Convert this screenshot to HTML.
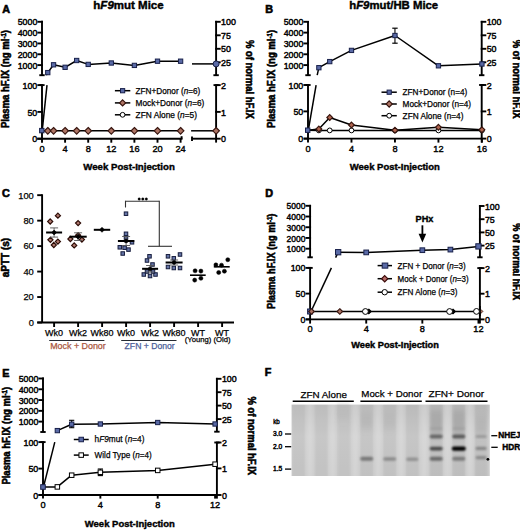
<!DOCTYPE html>
<html><head><meta charset="utf-8"><style>
html,body{margin:0;padding:0;background:#fff;overflow:hidden;}
svg{display:block;font-family:"Liberation Sans",sans-serif;}
text{stroke:#000;stroke-width:0.25px;}
text[font-weight="bold"]{stroke-width:0.4px;}
text[transform]{stroke-width:0.55px;}
text.tk{stroke-width:0.42px;}
text.xt{stroke-width:0.4px;}
text.pl{stroke-width:0.6px;}
</style></head><body>
<svg width="520" height="530" viewBox="0 0 520 530">
<defs>
<filter id="blur1" x="-20%" y="-50%" width="140%" height="200%"><feGaussianBlur stdDeviation="0.9 0.8"/></filter>
<filter id="blur2" x="-10%" y="-10%" width="120%" height="120%"><feGaussianBlur stdDeviation="1.2 0"/></filter>
<linearGradient id="gelg" x1="0" y1="0" x2="0" y2="1"><stop offset="0" stop-color="#c6c6c6"/><stop offset="0.45" stop-color="#d2d2d2"/><stop offset="1" stop-color="#cdcdcd"/></linearGradient>
<filter id="blur3" x="-50%" y="-50%" width="200%" height="200%"><feGaussianBlur stdDeviation="1.6 3"/></filter>
</defs>
<rect width="520" height="530" fill="#fff"/>
<rect x="291.6" y="404.6" width="198.2" height="71.39999999999998" fill="url(#gelg)"/>
<g filter="url(#blur2)"><rect x="292.0" y="404.6" width="13" height="71.39999999999998" fill="#000" opacity="0.05"/><rect x="314.7" y="404.6" width="13" height="71.39999999999998" fill="#000" opacity="0.05"/><rect x="337.4" y="404.6" width="13" height="71.39999999999998" fill="#000" opacity="0.05"/><rect x="360.2" y="404.6" width="13" height="71.39999999999998" fill="#000" opacity="0.06"/><rect x="383.2" y="404.6" width="13" height="71.39999999999998" fill="#000" opacity="0.06"/><rect x="405.8" y="404.6" width="13" height="71.39999999999998" fill="#000" opacity="0.06"/><rect x="429.7" y="404.6" width="13" height="71.39999999999998" fill="#000" opacity="0.08"/><rect x="452.3" y="404.6" width="13" height="71.39999999999998" fill="#000" opacity="0.08"/><rect x="474.6" y="404.6" width="13" height="71.39999999999998" fill="#000" opacity="0.08"/><rect x="307.5" y="404.6" width="5" height="71.39999999999998" fill="#fff" opacity="0.12"/><rect x="330.0" y="404.6" width="5" height="71.39999999999998" fill="#fff" opacity="0.12"/><rect x="352.8" y="404.6" width="5" height="71.39999999999998" fill="#fff" opacity="0.12"/><rect x="375.7" y="404.6" width="5" height="71.39999999999998" fill="#fff" opacity="0.12"/><rect x="398.5" y="404.6" width="5" height="71.39999999999998" fill="#fff" opacity="0.12"/><rect x="421.7" y="404.6" width="5" height="71.39999999999998" fill="#fff" opacity="0.12"/><rect x="445.0" y="404.6" width="5" height="71.39999999999998" fill="#fff" opacity="0.12"/><rect x="467.5" y="404.6" width="5" height="71.39999999999998" fill="#fff" opacity="0.12"/></g>
<g filter="url(#blur3)"><rect x="430.5" y="410" width="11.5" height="24" fill="#a4a4a4" opacity="0.75"/><rect x="453" y="410" width="11.5" height="24" fill="#a4a4a4" opacity="0.75"/><rect x="476" y="416" width="10" height="18" fill="#b0b0b0" opacity="0.6"/><rect x="361" y="412" width="11" height="16" fill="#b2b2b2" opacity="0.6"/><rect x="384" y="412" width="11" height="16" fill="#b6b6b6" opacity="0.5"/><rect x="337" y="405" width="12" height="14" fill="#b8b8b8" opacity="0.5"/></g>
<g filter="url(#blur1)"><rect x="360.2" y="456.8" width="13" height="4" rx="2" fill="#777777" opacity="1"/><rect x="383.2" y="457.2" width="13" height="3.6" rx="1.8" fill="#8a8a8a" opacity="1"/><rect x="406.3" y="457.5" width="12" height="3.4" rx="1.7" fill="#929292" opacity="1"/><rect x="429.7" y="434.5" width="13" height="4" rx="2" fill="#666666" opacity="1"/><rect x="429.7" y="446.8" width="13" height="3.6" rx="1.8" fill="#484848" opacity="1"/><rect x="429.7" y="456.8" width="13" height="4" rx="2" fill="#6a6a6a" opacity="1"/><rect x="452.3" y="434.5" width="13" height="4" rx="2" fill="#5a5a5a" opacity="1"/><rect x="451.8" y="446.4" width="14" height="4.4" rx="2.2" fill="#000000" opacity="1"/><rect x="452.3" y="456.8" width="13" height="4" rx="2" fill="#7a7a7a" opacity="1"/><rect x="475.6" y="435" width="11" height="3" rx="1.5" fill="#9a9a9a" opacity="1"/><rect x="475.6" y="446.7" width="11" height="3.4" rx="1.7" fill="#868686" opacity="1"/><rect x="475.6" y="455.9" width="11" height="3.4" rx="1.7" fill="#8a8a8a" opacity="1"/><rect x="430.2" y="427.25" width="12" height="2.5" rx="1.25" fill="#9a9a9a" opacity="0.6"/><rect x="452.8" y="427.25" width="12" height="2.5" rx="1.25" fill="#9a9a9a" opacity="0.6"/></g>
<text x="2.3" y="13.3" font-size="10.8" font-weight="bold" class="pl">A</text>
<text x="93.3" y="8.7" font-size="11" font-weight="bold" textLength="70.4" lengthAdjust="spacingAndGlyphs">h<tspan font-style="italic">F9</tspan>mut Mice</text>
<line x1="42" y1="20.85" x2="42" y2="75.2" stroke="#000" stroke-width="1.9" stroke-linecap="butt"/>
<line x1="39.3" y1="75.2" x2="44.7" y2="75.2" stroke="#000" stroke-width="1.9" stroke-linecap="butt"/>
<line x1="42" y1="85.1" x2="42" y2="138.7" stroke="#000" stroke-width="1.9" stroke-linecap="butt"/>
<line x1="39.4" y1="85.1" x2="44.6" y2="85.1" stroke="#000" stroke-width="1.9" stroke-linecap="butt"/>
<line x1="37.4" y1="21.8" x2="42.95" y2="21.8" stroke="#000" stroke-width="1.9" stroke-linecap="butt"/>
<text x="37.3" y="25.4" font-size="8.9" text-anchor="end" textLength="19.6" lengthAdjust="spacingAndGlyphs" class="tk">5000</text>
<line x1="37.4" y1="32.62" x2="42.95" y2="32.62" stroke="#000" stroke-width="1.9" stroke-linecap="butt"/>
<text x="37.3" y="36.23" font-size="8.9" text-anchor="end" textLength="19.6" lengthAdjust="spacingAndGlyphs" class="tk">4000</text>
<line x1="37.4" y1="43.45" x2="42.95" y2="43.45" stroke="#000" stroke-width="1.9" stroke-linecap="butt"/>
<text x="37.3" y="47.05" font-size="8.9" text-anchor="end" textLength="19.6" lengthAdjust="spacingAndGlyphs" class="tk">3000</text>
<line x1="37.4" y1="54.28" x2="42.95" y2="54.28" stroke="#000" stroke-width="1.9" stroke-linecap="butt"/>
<text x="37.3" y="57.88" font-size="8.9" text-anchor="end" textLength="19.6" lengthAdjust="spacingAndGlyphs" class="tk">2000</text>
<line x1="37.4" y1="65.1" x2="42.95" y2="65.1" stroke="#000" stroke-width="1.9" stroke-linecap="butt"/>
<text x="37.3" y="68.7" font-size="8.9" text-anchor="end" textLength="19.6" lengthAdjust="spacingAndGlyphs" class="tk">1000</text>
<line x1="37.4" y1="85.1" x2="42.95" y2="85.1" stroke="#000" stroke-width="1.9" stroke-linecap="butt"/>
<text x="37.3" y="88.7" font-size="8.9" text-anchor="end" class="tk">100</text>
<line x1="37.4" y1="111.9" x2="42.95" y2="111.9" stroke="#000" stroke-width="1.9" stroke-linecap="butt"/>
<text x="37.3" y="115.5" font-size="8.9" text-anchor="end" class="tk">50</text>
<line x1="37.4" y1="138.7" x2="42.95" y2="138.7" stroke="#000" stroke-width="1.9" stroke-linecap="butt"/>
<text x="37.3" y="142.3" font-size="8.9" text-anchor="end" class="tk">0</text>
<line x1="216.1" y1="20.85" x2="216.1" y2="75.2" stroke="#000" stroke-width="1.9" stroke-linecap="butt"/>
<line x1="213.4" y1="75.2" x2="218.8" y2="75.2" stroke="#000" stroke-width="1.9" stroke-linecap="butt"/>
<line x1="216.1" y1="85.1" x2="216.1" y2="142.6" stroke="#000" stroke-width="1.9" stroke-linecap="butt"/>
<line x1="213.5" y1="85.1" x2="218.7" y2="85.1" stroke="#000" stroke-width="1.9" stroke-linecap="butt"/>
<line x1="215.15" y1="21.8" x2="220.7" y2="21.8" stroke="#000" stroke-width="1.9" stroke-linecap="butt"/>
<text x="221.1" y="25.4" font-size="8.9" class="tk">100</text>
<line x1="215.15" y1="35.3" x2="220.7" y2="35.3" stroke="#000" stroke-width="1.9" stroke-linecap="butt"/>
<text x="221.1" y="38.9" font-size="8.9" class="tk">75</text>
<line x1="215.15" y1="48.8" x2="220.7" y2="48.8" stroke="#000" stroke-width="1.9" stroke-linecap="butt"/>
<text x="221.1" y="52.4" font-size="8.9" class="tk">50</text>
<line x1="215.15" y1="62.3" x2="220.7" y2="62.3" stroke="#000" stroke-width="1.9" stroke-linecap="butt"/>
<text x="221.1" y="65.9" font-size="8.9" class="tk">25</text>
<line x1="215.15" y1="85.1" x2="220.7" y2="85.1" stroke="#000" stroke-width="1.9" stroke-linecap="butt"/>
<text x="221.1" y="88.7" font-size="8.9" class="tk">2</text>
<line x1="215.15" y1="111.9" x2="220.7" y2="111.9" stroke="#000" stroke-width="1.9" stroke-linecap="butt"/>
<text x="221.1" y="115.5" font-size="8.9" class="tk">1</text>
<line x1="215.15" y1="138.7" x2="220.7" y2="138.7" stroke="#000" stroke-width="1.9" stroke-linecap="butt"/>
<text x="221.1" y="142.3" font-size="8.9" class="tk">0</text>
<line x1="37.2" y1="138.7" x2="182.5" y2="138.7" stroke="#000" stroke-width="1.9" stroke-linecap="butt"/>
<line x1="181.6" y1="136.2" x2="181.6" y2="138.7" stroke="#000" stroke-width="1.9" stroke-linecap="butt"/>
<line x1="192" y1="136.4" x2="192" y2="141" stroke="#000" stroke-width="1.9" stroke-linecap="butt"/>
<line x1="192" y1="138.7" x2="216.1" y2="138.7" stroke="#000" stroke-width="1.9" stroke-linecap="butt"/>
<line x1="42" y1="138.7" x2="42" y2="142.7" stroke="#000" stroke-width="1.9" stroke-linecap="butt"/>
<text x="42" y="151.75" font-size="9.2" text-anchor="middle" class="xt">0</text>
<line x1="65.1" y1="138.7" x2="65.1" y2="142.7" stroke="#000" stroke-width="1.9" stroke-linecap="butt"/>
<text x="65.1" y="151.75" font-size="9.2" text-anchor="middle" class="xt">4</text>
<line x1="88.2" y1="138.7" x2="88.2" y2="142.7" stroke="#000" stroke-width="1.9" stroke-linecap="butt"/>
<text x="88.2" y="151.75" font-size="9.2" text-anchor="middle" class="xt">8</text>
<line x1="111.3" y1="138.7" x2="111.3" y2="142.7" stroke="#000" stroke-width="1.9" stroke-linecap="butt"/>
<text x="111.3" y="151.75" font-size="9.2" text-anchor="middle" class="xt">12</text>
<line x1="134.4" y1="138.7" x2="134.4" y2="142.7" stroke="#000" stroke-width="1.9" stroke-linecap="butt"/>
<text x="134.4" y="151.75" font-size="9.2" text-anchor="middle" class="xt">16</text>
<line x1="157.5" y1="138.7" x2="157.5" y2="142.7" stroke="#000" stroke-width="1.9" stroke-linecap="butt"/>
<text x="157.5" y="151.75" font-size="9.2" text-anchor="middle" class="xt">20</text>
<line x1="180.6" y1="138.7" x2="180.6" y2="142.7" stroke="#000" stroke-width="1.9" stroke-linecap="butt"/>
<text x="180.6" y="151.75" font-size="9.2" text-anchor="middle" class="xt">24</text>
<text x="83.3" y="170.36" font-size="9.6" font-weight="bold" textLength="91.5" lengthAdjust="spacingAndGlyphs">Week Post-Injection</text>
<text x="9.2" y="79.05" font-size="10.2" font-weight="bold" text-anchor="middle" textLength="98.1" lengthAdjust="spacingAndGlyphs" transform="rotate(-90 9.2 79.05)">Plasma hF.IX (ng ml<tspan font-size="6.5" dy="-3.4">-1</tspan><tspan dy="3.4">)</tspan></text>
<text x="246.3" y="79.35" font-size="10.2" font-weight="bold" text-anchor="middle" textLength="78.9" lengthAdjust="spacingAndGlyphs" transform="rotate(90 246.3 79.35)">% of normal hF.IX</text>
<polyline points="47.77,72.6 53.55,64.8 65.1,67.3 76.65,60.5 88.2,64.4 111.3,63 134.4,65.4 157.5,61.2 180.6,61.2" fill="none" stroke="#000" stroke-width="1.5" stroke-linejoin="round"/>
<polyline points="46.3,75.2 47.77,72.6" fill="none" stroke="#000" stroke-width="1.5" stroke-linejoin="round"/>
<line x1="192" y1="63.9" x2="216.1" y2="63.9" stroke="#000" stroke-width="1.5" stroke-linecap="butt"/>
<polyline points="42.2,130.6 47,85.2" fill="none" stroke="#000" stroke-width="1.5" stroke-linejoin="round"/>
<polyline points="42,130.8 47.77,130.8 53.55,130.8 65.1,130.8 76.65,130.8 88.2,130.8 111.3,130.8 134.4,130.8 157.5,130.8 180.6,130.8" fill="none" stroke="#000" stroke-width="1.5" stroke-linejoin="round"/>
<line x1="191.1" y1="130.8" x2="216.1" y2="130.8" stroke="#000" stroke-width="1.5" stroke-linecap="butt"/>
<polygon points="47.77,127.5 51.07,130.8 47.77,134.1 44.48,130.8" fill="#ad7464" stroke="#36140e" stroke-width="1.15"/>
<polygon points="53.55,127.5 56.85,130.8 53.55,134.1 50.25,130.8" fill="#ad7464" stroke="#36140e" stroke-width="1.15"/>
<polygon points="65.1,127.5 68.4,130.8 65.1,134.1 61.8,130.8" fill="#ad7464" stroke="#36140e" stroke-width="1.15"/>
<polygon points="76.65,127.5 79.95,130.8 76.65,134.1 73.35,130.8" fill="#ad7464" stroke="#36140e" stroke-width="1.15"/>
<polygon points="88.2,127.5 91.5,130.8 88.2,134.1 84.9,130.8" fill="#ad7464" stroke="#36140e" stroke-width="1.15"/>
<polygon points="111.3,127.5 114.6,130.8 111.3,134.1 108,130.8" fill="#ad7464" stroke="#36140e" stroke-width="1.15"/>
<polygon points="134.4,127.5 137.7,130.8 134.4,134.1 131.1,130.8" fill="#ad7464" stroke="#36140e" stroke-width="1.15"/>
<polygon points="157.5,127.5 160.8,130.8 157.5,134.1 154.2,130.8" fill="#ad7464" stroke="#36140e" stroke-width="1.15"/>
<polygon points="180.6,127.5 183.9,130.8 180.6,134.1 177.3,130.8" fill="#ad7464" stroke="#36140e" stroke-width="1.15"/>
<polygon points="216.1,127.5 219.4,130.8 216.1,134.1 212.8,130.8" fill="#ad7464" stroke="#36140e" stroke-width="1.15"/>
<rect x="39.6" y="128.4" width="4.4" height="4.4" fill="#5a6aa6" stroke="#18204a" stroke-width="1"/>
<rect x="45.62" y="70.45" width="4.3" height="4.3" fill="#5a6aa6" stroke="#18204a" stroke-width="1"/>
<rect x="51.4" y="62.65" width="4.3" height="4.3" fill="#5a6aa6" stroke="#18204a" stroke-width="1"/>
<rect x="62.95" y="65.15" width="4.3" height="4.3" fill="#5a6aa6" stroke="#18204a" stroke-width="1"/>
<rect x="74.5" y="58.35" width="4.3" height="4.3" fill="#5a6aa6" stroke="#18204a" stroke-width="1"/>
<rect x="86.05" y="62.25" width="4.3" height="4.3" fill="#5a6aa6" stroke="#18204a" stroke-width="1"/>
<rect x="109.15" y="60.85" width="4.3" height="4.3" fill="#5a6aa6" stroke="#18204a" stroke-width="1"/>
<rect x="132.25" y="63.25" width="4.3" height="4.3" fill="#5a6aa6" stroke="#18204a" stroke-width="1"/>
<rect x="155.35" y="59.05" width="4.3" height="4.3" fill="#5a6aa6" stroke="#18204a" stroke-width="1"/>
<rect x="178.45" y="59.05" width="4.3" height="4.3" fill="#5a6aa6" stroke="#18204a" stroke-width="1"/>
<circle cx="216.1" cy="63.9" r="3" fill="#5a6aa6" stroke="#18204a" stroke-width="1"/>
<line x1="114.9" y1="90.7" x2="130.3" y2="90.7" stroke="#000" stroke-width="1.5" stroke-linecap="butt"/>
<rect x="120.5" y="88.6" width="4.2" height="4.2" fill="#5a6aa6" stroke="#18204a" stroke-width="1"/>
<text x="135.6" y="93.69" font-size="8.3" textLength="64.7" lengthAdjust="spacingAndGlyphs">ZFN+Donor (<tspan font-style="italic">n</tspan>=6)</text>
<line x1="114.9" y1="102.9" x2="130.3" y2="102.9" stroke="#000" stroke-width="1.5" stroke-linecap="butt"/>
<polygon points="122.6,99.8 125.7,102.9 122.6,106 119.5,102.9" fill="#ad7464" stroke="#36140e" stroke-width="1.15"/>
<text x="135.6" y="105.89" font-size="8.3" textLength="68.7" lengthAdjust="spacingAndGlyphs">Mock+Donor (<tspan font-style="italic">n</tspan>=6)</text>
<line x1="114.9" y1="114.8" x2="130.3" y2="114.8" stroke="#000" stroke-width="1.5" stroke-linecap="butt"/>
<circle cx="122.6" cy="114.8" r="2.4" fill="#fff" stroke="#000" stroke-width="1"/>
<text x="135.6" y="117.79" font-size="8.3" textLength="61.4" lengthAdjust="spacingAndGlyphs">ZFN Alone (<tspan font-style="italic">n</tspan>=5)</text>
<text x="265.2" y="13.3" font-size="10.8" font-weight="bold" class="pl">B</text>
<text x="349.2" y="8.7" font-size="11" font-weight="bold" textLength="89" lengthAdjust="spacingAndGlyphs">h<tspan font-style="italic">F9</tspan>mut/HB Mice</text>
<line x1="308" y1="20.95" x2="308" y2="75.2" stroke="#000" stroke-width="1.9" stroke-linecap="butt"/>
<line x1="305.3" y1="75.2" x2="310.7" y2="75.2" stroke="#000" stroke-width="1.9" stroke-linecap="butt"/>
<line x1="308" y1="85" x2="308" y2="138.6" stroke="#000" stroke-width="1.9" stroke-linecap="butt"/>
<line x1="305.4" y1="85" x2="310.6" y2="85" stroke="#000" stroke-width="1.9" stroke-linecap="butt"/>
<line x1="303.4" y1="21.8" x2="308.95" y2="21.8" stroke="#000" stroke-width="1.9" stroke-linecap="butt"/>
<text x="303.3" y="25.4" font-size="8.9" text-anchor="end" textLength="19.6" lengthAdjust="spacingAndGlyphs" class="tk">5000</text>
<line x1="303.4" y1="32.62" x2="308.95" y2="32.62" stroke="#000" stroke-width="1.9" stroke-linecap="butt"/>
<text x="303.3" y="36.23" font-size="8.9" text-anchor="end" textLength="19.6" lengthAdjust="spacingAndGlyphs" class="tk">4000</text>
<line x1="303.4" y1="43.45" x2="308.95" y2="43.45" stroke="#000" stroke-width="1.9" stroke-linecap="butt"/>
<text x="303.3" y="47.05" font-size="8.9" text-anchor="end" textLength="19.6" lengthAdjust="spacingAndGlyphs" class="tk">3000</text>
<line x1="303.4" y1="54.28" x2="308.95" y2="54.28" stroke="#000" stroke-width="1.9" stroke-linecap="butt"/>
<text x="303.3" y="57.88" font-size="8.9" text-anchor="end" textLength="19.6" lengthAdjust="spacingAndGlyphs" class="tk">2000</text>
<line x1="303.4" y1="65.1" x2="308.95" y2="65.1" stroke="#000" stroke-width="1.9" stroke-linecap="butt"/>
<text x="303.3" y="68.7" font-size="8.9" text-anchor="end" textLength="19.6" lengthAdjust="spacingAndGlyphs" class="tk">1000</text>
<line x1="303.4" y1="85" x2="308.95" y2="85" stroke="#000" stroke-width="1.9" stroke-linecap="butt"/>
<text x="303.3" y="88.6" font-size="8.9" text-anchor="end" class="tk">100</text>
<line x1="303.4" y1="111.4" x2="308.95" y2="111.4" stroke="#000" stroke-width="1.9" stroke-linecap="butt"/>
<text x="303.3" y="115" font-size="8.9" text-anchor="end" class="tk">50</text>
<line x1="303.4" y1="138.6" x2="308.95" y2="138.6" stroke="#000" stroke-width="1.9" stroke-linecap="butt"/>
<text x="303.3" y="142.2" font-size="8.9" text-anchor="end" class="tk">0</text>
<line x1="481.7" y1="20.85" x2="481.7" y2="75.2" stroke="#000" stroke-width="1.9" stroke-linecap="butt"/>
<line x1="479" y1="75.2" x2="484.4" y2="75.2" stroke="#000" stroke-width="1.9" stroke-linecap="butt"/>
<line x1="481.7" y1="85" x2="481.7" y2="142.6" stroke="#000" stroke-width="1.9" stroke-linecap="butt"/>
<line x1="479.1" y1="85" x2="484.3" y2="85" stroke="#000" stroke-width="1.9" stroke-linecap="butt"/>
<line x1="480.75" y1="21.8" x2="486.3" y2="21.8" stroke="#000" stroke-width="1.9" stroke-linecap="butt"/>
<text x="486.7" y="25.4" font-size="8.9" class="tk">100</text>
<line x1="480.75" y1="35.3" x2="486.3" y2="35.3" stroke="#000" stroke-width="1.9" stroke-linecap="butt"/>
<text x="486.7" y="38.9" font-size="8.9" class="tk">75</text>
<line x1="480.75" y1="48.8" x2="486.3" y2="48.8" stroke="#000" stroke-width="1.9" stroke-linecap="butt"/>
<text x="486.7" y="52.4" font-size="8.9" class="tk">50</text>
<line x1="480.75" y1="62.3" x2="486.3" y2="62.3" stroke="#000" stroke-width="1.9" stroke-linecap="butt"/>
<text x="486.7" y="65.9" font-size="8.9" class="tk">25</text>
<line x1="480.75" y1="85" x2="486.3" y2="85" stroke="#000" stroke-width="1.9" stroke-linecap="butt"/>
<text x="486.7" y="88.6" font-size="8.9" class="tk">2</text>
<line x1="480.75" y1="111.4" x2="486.3" y2="111.4" stroke="#000" stroke-width="1.9" stroke-linecap="butt"/>
<text x="486.7" y="115" font-size="8.9" class="tk">1</text>
<line x1="480.75" y1="138.6" x2="486.3" y2="138.6" stroke="#000" stroke-width="1.9" stroke-linecap="butt"/>
<text x="486.7" y="142.2" font-size="8.9" class="tk">0</text>
<line x1="304" y1="138.6" x2="481.7" y2="138.6" stroke="#000" stroke-width="1.9" stroke-linecap="butt"/>
<line x1="308" y1="138.6" x2="308" y2="142.6" stroke="#000" stroke-width="1.9" stroke-linecap="butt"/>
<text x="308" y="151.75" font-size="9.2" text-anchor="middle" class="xt">0</text>
<line x1="351.48" y1="138.6" x2="351.48" y2="142.6" stroke="#000" stroke-width="1.9" stroke-linecap="butt"/>
<text x="351.48" y="151.75" font-size="9.2" text-anchor="middle" class="xt">4</text>
<line x1="394.96" y1="138.6" x2="394.96" y2="142.6" stroke="#000" stroke-width="1.9" stroke-linecap="butt"/>
<text x="394.96" y="151.75" font-size="9.2" text-anchor="middle" class="xt">8</text>
<line x1="438.44" y1="138.6" x2="438.44" y2="142.6" stroke="#000" stroke-width="1.9" stroke-linecap="butt"/>
<text x="438.44" y="151.75" font-size="9.2" text-anchor="middle" class="xt">12</text>
<line x1="481.92" y1="138.6" x2="481.92" y2="142.6" stroke="#000" stroke-width="1.9" stroke-linecap="butt"/>
<text x="481.92" y="151.75" font-size="9.2" text-anchor="middle" class="xt">16</text>
<text x="349.8" y="169.76" font-size="9.6" font-weight="bold" textLength="90" lengthAdjust="spacingAndGlyphs">Week Post-Injection</text>
<text x="275" y="78.95" font-size="10.2" font-weight="bold" text-anchor="middle" textLength="98.1" lengthAdjust="spacingAndGlyphs" transform="rotate(-90 275 78.95)">Plasma hF.IX (ng ml<tspan font-size="6.5" dy="-3.4">-1</tspan><tspan dy="3.4">)</tspan></text>
<text x="512.5" y="79.2" font-size="10.2" font-weight="bold" text-anchor="middle" textLength="78.8" lengthAdjust="spacingAndGlyphs" transform="rotate(90 512.5 79.2)">% of normal hF.IX</text>
<polyline points="318.87,67.7 329.74,61.6 351.48,50.4 394.96,35.5 438.44,65.8 481.92,64" fill="none" stroke="#000" stroke-width="1.5" stroke-linejoin="round"/>
<polyline points="317.2,75.2 318.87,67.7" fill="none" stroke="#000" stroke-width="1.5" stroke-linejoin="round"/>
<polyline points="308.3,130.3 316.1,85.2" fill="none" stroke="#000" stroke-width="1.5" stroke-linejoin="round"/>
<line x1="394.96" y1="28.2" x2="394.96" y2="43.2" stroke="#000" stroke-width="1.1" stroke-linecap="butt"/>
<line x1="392.26" y1="28.2" x2="397.66" y2="28.2" stroke="#000" stroke-width="1.2" stroke-linecap="butt"/>
<line x1="392.26" y1="43.2" x2="397.66" y2="43.2" stroke="#000" stroke-width="1.2" stroke-linecap="butt"/>
<polyline points="308,130.3 318.87,130.4 329.74,130.4 351.48,130.4 394.96,130.4 438.44,130.4 481.92,130.4" fill="none" stroke="#000" stroke-width="1.5" stroke-linejoin="round"/>
<polyline points="308,130.3 318.87,129 329.74,117.5 351.48,125 394.96,130.2 438.44,127.3 481.92,129.8" fill="none" stroke="#000" stroke-width="1.5" stroke-linejoin="round"/>
<circle cx="318.87" cy="130.4" r="2.4" fill="#fff" stroke="#000" stroke-width="1"/>
<circle cx="329.74" cy="130.4" r="2.4" fill="#fff" stroke="#000" stroke-width="1"/>
<circle cx="351.48" cy="130.4" r="2.4" fill="#fff" stroke="#000" stroke-width="1"/>
<circle cx="394.96" cy="130.4" r="2.4" fill="#fff" stroke="#000" stroke-width="1"/>
<circle cx="438.44" cy="130.4" r="2.4" fill="#fff" stroke="#000" stroke-width="1"/>
<circle cx="481.92" cy="130.4" r="2.4" fill="#fff" stroke="#000" stroke-width="1"/>
<polygon points="318.87,126.1 321.77,129 318.87,131.9 315.97,129" fill="#b06650" stroke="#36140e" stroke-width="1.15"/>
<polygon points="329.74,114.6 332.64,117.5 329.74,120.4 326.84,117.5" fill="#b06650" stroke="#36140e" stroke-width="1.15"/>
<polygon points="351.48,122.1 354.38,125 351.48,127.9 348.58,125" fill="#b06650" stroke="#36140e" stroke-width="1.15"/>
<polygon points="394.96,127.3 397.86,130.2 394.96,133.1 392.06,130.2" fill="#b06650" stroke="#36140e" stroke-width="1.15"/>
<polygon points="438.44,124.4 441.34,127.3 438.44,130.2 435.54,127.3" fill="#b06650" stroke="#36140e" stroke-width="1.15"/>
<polygon points="481.92,126.9 484.82,129.8 481.92,132.7 479.02,129.8" fill="#b06650" stroke="#36140e" stroke-width="1.15"/>
<rect x="305.5" y="128" width="4.4" height="4.4" fill="#5a6aa6" stroke="#18204a" stroke-width="1"/>
<rect x="316.72" y="65.55" width="4.3" height="4.3" fill="#5a6aa6" stroke="#18204a" stroke-width="1"/>
<rect x="327.59" y="59.45" width="4.3" height="4.3" fill="#5a6aa6" stroke="#18204a" stroke-width="1"/>
<rect x="349.33" y="48.25" width="4.3" height="4.3" fill="#5a6aa6" stroke="#18204a" stroke-width="1"/>
<rect x="392.81" y="33.35" width="4.3" height="4.3" fill="#5a6aa6" stroke="#18204a" stroke-width="1"/>
<rect x="436.29" y="63.65" width="4.3" height="4.3" fill="#5a6aa6" stroke="#18204a" stroke-width="1"/>
<rect x="479.77" y="61.85" width="4.3" height="4.3" fill="#5a6aa6" stroke="#18204a" stroke-width="1"/>
<line x1="381.5" y1="92.2" x2="396.8" y2="92.2" stroke="#000" stroke-width="1.5" stroke-linecap="butt"/>
<rect x="387.1" y="90.1" width="4.2" height="4.2" fill="#5a6aa6" stroke="#18204a" stroke-width="1"/>
<text x="402.6" y="95.19" font-size="8.3" textLength="64.6" lengthAdjust="spacingAndGlyphs">ZFN+Donor (n=4)</text>
<line x1="381.5" y1="104" x2="396.8" y2="104" stroke="#000" stroke-width="1.5" stroke-linecap="butt"/>
<polygon points="389.2,100.9 392.3,104 389.2,107.1 386.1,104" fill="#ad7464" stroke="#36140e" stroke-width="1.15"/>
<text x="402.6" y="106.99" font-size="8.3" textLength="68.5" lengthAdjust="spacingAndGlyphs">Mock+Donor (n=4)</text>
<line x1="381.5" y1="115.7" x2="396.8" y2="115.7" stroke="#000" stroke-width="1.5" stroke-linecap="butt"/>
<circle cx="389.2" cy="115.7" r="2.4" fill="#fff" stroke="#000" stroke-width="1"/>
<text x="402.6" y="118.69" font-size="8.3" textLength="60.8" lengthAdjust="spacingAndGlyphs">ZFN Alone (n=4)</text>
<text x="2" y="197.1" font-size="10.8" font-weight="bold" class="pl">C</text>
<line x1="42.1" y1="194.25" x2="42.1" y2="322.5" stroke="#000" stroke-width="1.9" stroke-linecap="butt"/>
<line x1="37.2" y1="322.5" x2="42.1" y2="322.5" stroke="#000" stroke-width="1.9" stroke-linecap="butt"/>
<text x="33.8" y="325.85" font-size="9.3" text-anchor="end">0</text>
<line x1="37.2" y1="297.03" x2="42.1" y2="297.03" stroke="#000" stroke-width="1.9" stroke-linecap="butt"/>
<text x="33.8" y="300.38" font-size="9.3" text-anchor="end">20</text>
<line x1="37.2" y1="271.57" x2="42.1" y2="271.57" stroke="#000" stroke-width="1.9" stroke-linecap="butt"/>
<text x="33.8" y="274.92" font-size="9.3" text-anchor="end">40</text>
<line x1="37.2" y1="246.1" x2="42.1" y2="246.1" stroke="#000" stroke-width="1.9" stroke-linecap="butt"/>
<text x="33.8" y="249.45" font-size="9.3" text-anchor="end">60</text>
<line x1="37.2" y1="220.64" x2="42.1" y2="220.64" stroke="#000" stroke-width="1.9" stroke-linecap="butt"/>
<text x="33.8" y="223.99" font-size="9.3" text-anchor="end">80</text>
<line x1="37.2" y1="195.17" x2="42.1" y2="195.17" stroke="#000" stroke-width="1.9" stroke-linecap="butt"/>
<text x="33.8" y="198.52" font-size="9.3" text-anchor="end">100</text>
<line x1="37.3" y1="322.5" x2="234" y2="322.5" stroke="#000" stroke-width="1.9" stroke-linecap="butt"/>
<line x1="54.1" y1="322.5" x2="54.1" y2="327" stroke="#000" stroke-width="1.9" stroke-linecap="butt"/>
<text x="54.1" y="335.9" font-size="9" text-anchor="middle">Wk0</text>
<line x1="78.1" y1="322.5" x2="78.1" y2="327" stroke="#000" stroke-width="1.9" stroke-linecap="butt"/>
<text x="78.1" y="335.9" font-size="9" text-anchor="middle">Wk2</text>
<line x1="102.1" y1="322.5" x2="102.1" y2="327" stroke="#000" stroke-width="1.9" stroke-linecap="butt"/>
<text x="102.1" y="335.9" font-size="9" text-anchor="middle">Wk80</text>
<line x1="126.1" y1="322.5" x2="126.1" y2="327" stroke="#000" stroke-width="1.9" stroke-linecap="butt"/>
<text x="126.1" y="335.9" font-size="9" text-anchor="middle">Wk0</text>
<line x1="150.1" y1="322.5" x2="150.1" y2="327" stroke="#000" stroke-width="1.9" stroke-linecap="butt"/>
<text x="150.1" y="335.9" font-size="9" text-anchor="middle">Wk2</text>
<line x1="174.1" y1="322.5" x2="174.1" y2="327" stroke="#000" stroke-width="1.9" stroke-linecap="butt"/>
<text x="174.1" y="335.9" font-size="9" text-anchor="middle">Wk80</text>
<line x1="198.1" y1="322.5" x2="198.1" y2="327" stroke="#000" stroke-width="1.9" stroke-linecap="butt"/>
<text x="198.1" y="335.9" font-size="9" text-anchor="middle">WT</text>
<line x1="222.1" y1="322.5" x2="222.1" y2="327" stroke="#000" stroke-width="1.9" stroke-linecap="butt"/>
<text x="222.1" y="335.9" font-size="9" text-anchor="middle">WT</text>
<text x="198.1" y="342.2" font-size="7.7" text-anchor="middle">(Young)</text>
<text x="222.1" y="342.2" font-size="7.7" text-anchor="middle">(Old)</text>
<line x1="49.2" y1="340.5" x2="104.4" y2="340.5" stroke="#262b33" stroke-width="1.1" stroke-linecap="butt"/>
<line x1="121.2" y1="340.5" x2="176.5" y2="340.5" stroke="#262b33" stroke-width="1.1" stroke-linecap="butt"/>
<text x="50.2" y="348.74" font-size="9" fill="#aa5640" style="stroke:#aa5640" textLength="55.6" lengthAdjust="spacingAndGlyphs">Mock + Donor</text>
<text x="124.6" y="348.94" font-size="9" fill="#4c5e98" style="stroke:#4c5e98" textLength="50.1" lengthAdjust="spacingAndGlyphs">ZFN + Donor</text>
<text x="9.1" y="257.55" font-size="10" font-weight="bold" text-anchor="middle" textLength="39.3" lengthAdjust="spacingAndGlyphs" transform="rotate(-90 9.1 257.55)">aPTT (s)</text>
<line x1="125.5" y1="201.3" x2="159.3" y2="201.3" stroke="#333" stroke-width="1.1" stroke-linecap="butt"/>
<line x1="125.5" y1="200.75" x2="125.5" y2="207.5" stroke="#333" stroke-width="1.1" stroke-linecap="butt"/>
<line x1="159.3" y1="200.75" x2="159.3" y2="246.3" stroke="#333" stroke-width="1.1" stroke-linecap="butt"/>
<line x1="148" y1="246.3" x2="172" y2="246.3" stroke="#333" stroke-width="1.1" stroke-linecap="butt"/>
<circle cx="139.2" cy="199" r="1.25" fill="#000" stroke="#000" stroke-width="0.3"/>
<circle cx="142.8" cy="199" r="1.25" fill="#000" stroke="#000" stroke-width="0.3"/>
<circle cx="146.3" cy="199" r="1.25" fill="#000" stroke="#000" stroke-width="0.3"/>
<polygon points="50.2,218.95 52.75,221.5 50.2,224.05 47.65,221.5" fill="#b07a70" stroke="#2c0c06" stroke-width="1.2"/>
<polygon points="57.9,213.15 60.45,215.7 57.9,218.25 55.35,215.7" fill="#b07a70" stroke="#2c0c06" stroke-width="1.2"/>
<polygon points="50.4,237.25 52.95,239.8 50.4,242.35 47.85,239.8" fill="#b07a70" stroke="#2c0c06" stroke-width="1.2"/>
<polygon points="57.9,239.05 60.45,241.6 57.9,244.15 55.35,241.6" fill="#b07a70" stroke="#2c0c06" stroke-width="1.2"/>
<polygon points="53.8,242.45 56.35,245 53.8,247.55 51.25,245" fill="#b07a70" stroke="#2c0c06" stroke-width="1.2"/>
<line x1="54.1" y1="227.9" x2="54.1" y2="237.1" stroke="#555" stroke-width="0.9" stroke-linecap="butt"/>
<line x1="50.1" y1="227.9" x2="58.1" y2="227.9" stroke="#555" stroke-width="0.9" stroke-linecap="butt"/>
<line x1="50.1" y1="237.1" x2="58.1" y2="237.1" stroke="#555" stroke-width="0.9" stroke-linecap="butt"/>
<line x1="46.1" y1="232.5" x2="62.1" y2="232.5" stroke="#000" stroke-width="2" stroke-linecap="butt"/>
<polygon points="54.1,230 56.6,232.5 54.1,235 51.6,232.5" fill="#000" stroke="#000" stroke-width="0.6"/>
<polygon points="78.1,220.55 80.65,223.1 78.1,225.65 75.55,223.1" fill="#b07a70" stroke="#2c0c06" stroke-width="1.2"/>
<polygon points="70.4,236.45 72.95,239 70.4,241.55 67.85,239" fill="#b07a70" stroke="#2c0c06" stroke-width="1.2"/>
<polygon points="81.9,237.05 84.45,239.6 81.9,242.15 79.35,239.6" fill="#b07a70" stroke="#2c0c06" stroke-width="1.2"/>
<polygon points="74.2,242.85 76.75,245.4 74.2,247.95 71.65,245.4" fill="#b07a70" stroke="#2c0c06" stroke-width="1.2"/>
<polygon points="78.1,232.75 80.65,235.3 78.1,237.85 75.55,235.3" fill="#b07a70" stroke="#2c0c06" stroke-width="1.2"/>
<line x1="78.1" y1="232.8" x2="78.1" y2="240.5" stroke="#555" stroke-width="0.9" stroke-linecap="butt"/>
<line x1="74.1" y1="232.8" x2="82.1" y2="232.8" stroke="#555" stroke-width="0.9" stroke-linecap="butt"/>
<line x1="74.1" y1="240.5" x2="82.1" y2="240.5" stroke="#555" stroke-width="0.9" stroke-linecap="butt"/>
<line x1="69.5" y1="236.7" x2="86.7" y2="236.7" stroke="#000" stroke-width="2" stroke-linecap="butt"/>
<polygon points="78.1,234.2 80.6,236.7 78.1,239.2 75.6,236.7" fill="#000" stroke="#000" stroke-width="0.6"/>
<line x1="93.8" y1="229.8" x2="110.2" y2="229.8" stroke="#000" stroke-width="2" stroke-linecap="butt"/>
<polygon points="102,227.3 104.5,229.8 102,232.3 99.5,229.8" fill="#000" stroke="#000" stroke-width="0.6"/>
<rect x="124.25" y="211.95" width="3.5" height="3.5" fill="#6676a8" stroke="#161c3c" stroke-width="1"/>
<rect x="124.25" y="232.05" width="3.5" height="3.5" fill="#6676a8" stroke="#161c3c" stroke-width="1"/>
<rect x="118.05" y="245.55" width="3.5" height="3.5" fill="#6676a8" stroke="#161c3c" stroke-width="1"/>
<rect x="122.85" y="245.95" width="3.5" height="3.5" fill="#6676a8" stroke="#161c3c" stroke-width="1"/>
<rect x="126.75" y="247.85" width="3.5" height="3.5" fill="#6676a8" stroke="#161c3c" stroke-width="1"/>
<rect x="120.95" y="251.75" width="3.5" height="3.5" fill="#6676a8" stroke="#161c3c" stroke-width="1"/>
<rect x="130.25" y="240.55" width="3.5" height="3.5" fill="#6676a8" stroke="#161c3c" stroke-width="1"/>
<rect x="124.25" y="235.75" width="3.5" height="3.5" fill="#6676a8" stroke="#161c3c" stroke-width="1"/>
<line x1="126.1" y1="236.5" x2="126.1" y2="245.5" stroke="#555" stroke-width="0.9" stroke-linecap="butt"/>
<line x1="122.1" y1="236.5" x2="130.1" y2="236.5" stroke="#555" stroke-width="0.9" stroke-linecap="butt"/>
<line x1="122.1" y1="245.5" x2="130.1" y2="245.5" stroke="#555" stroke-width="0.9" stroke-linecap="butt"/>
<line x1="117.9" y1="241" x2="134.3" y2="241" stroke="#000" stroke-width="2" stroke-linecap="butt"/>
<circle cx="126.1" cy="241" r="1.9" fill="#000" stroke="#000" stroke-width="0.5"/>
<rect x="147.75" y="254.55" width="3.5" height="3.5" fill="#6676a8" stroke="#161c3c" stroke-width="1"/>
<rect x="145.25" y="258.75" width="3.5" height="3.5" fill="#6676a8" stroke="#161c3c" stroke-width="1"/>
<rect x="150.75" y="262.75" width="3.5" height="3.5" fill="#6676a8" stroke="#161c3c" stroke-width="1"/>
<rect x="142.05" y="272.75" width="3.5" height="3.5" fill="#6676a8" stroke="#161c3c" stroke-width="1"/>
<rect x="148.25" y="274.25" width="3.5" height="3.5" fill="#6676a8" stroke="#161c3c" stroke-width="1"/>
<rect x="153.75" y="272.75" width="3.5" height="3.5" fill="#6676a8" stroke="#161c3c" stroke-width="1"/>
<rect x="145.25" y="269.75" width="3.5" height="3.5" fill="#6676a8" stroke="#161c3c" stroke-width="1"/>
<rect x="151.25" y="269.75" width="3.5" height="3.5" fill="#6676a8" stroke="#161c3c" stroke-width="1"/>
<line x1="150.1" y1="265.5" x2="150.1" y2="272" stroke="#555" stroke-width="0.9" stroke-linecap="butt"/>
<line x1="146.1" y1="265.5" x2="154.1" y2="265.5" stroke="#555" stroke-width="0.9" stroke-linecap="butt"/>
<line x1="146.1" y1="272" x2="154.1" y2="272" stroke="#555" stroke-width="0.9" stroke-linecap="butt"/>
<line x1="142.1" y1="268.8" x2="158.1" y2="268.8" stroke="#000" stroke-width="2" stroke-linecap="butt"/>
<circle cx="150.1" cy="268.8" r="1.9" fill="#000" stroke="#000" stroke-width="0.5"/>
<rect x="166.25" y="254.55" width="3.5" height="3.5" fill="#6676a8" stroke="#161c3c" stroke-width="1"/>
<rect x="172.05" y="256.55" width="3.5" height="3.5" fill="#6676a8" stroke="#161c3c" stroke-width="1"/>
<rect x="178.25" y="252.75" width="3.5" height="3.5" fill="#6676a8" stroke="#161c3c" stroke-width="1"/>
<rect x="166.25" y="265.25" width="3.5" height="3.5" fill="#6676a8" stroke="#161c3c" stroke-width="1"/>
<rect x="172.05" y="266.25" width="3.5" height="3.5" fill="#6676a8" stroke="#161c3c" stroke-width="1"/>
<rect x="178.25" y="266.25" width="3.5" height="3.5" fill="#6676a8" stroke="#161c3c" stroke-width="1"/>
<line x1="174.1" y1="260" x2="174.1" y2="265" stroke="#555" stroke-width="0.9" stroke-linecap="butt"/>
<line x1="170.1" y1="260" x2="178.1" y2="260" stroke="#555" stroke-width="0.9" stroke-linecap="butt"/>
<line x1="170.1" y1="265" x2="178.1" y2="265" stroke="#555" stroke-width="0.9" stroke-linecap="butt"/>
<line x1="165.6" y1="262.5" x2="182.6" y2="262.5" stroke="#000" stroke-width="2" stroke-linecap="butt"/>
<circle cx="174.1" cy="262.5" r="1.9" fill="#000" stroke="#000" stroke-width="0.5"/>
<circle cx="195.1" cy="270.8" r="2.05" fill="#000" stroke="#000" stroke-width="0.5"/>
<circle cx="200.9" cy="271.1" r="2.05" fill="#000" stroke="#000" stroke-width="0.5"/>
<circle cx="194.7" cy="280.1" r="2.05" fill="#000" stroke="#000" stroke-width="0.5"/>
<circle cx="200.9" cy="278.3" r="2.05" fill="#000" stroke="#000" stroke-width="0.5"/>
<line x1="190" y1="275.2" x2="205.7" y2="275.2" stroke="#000" stroke-width="1.6" stroke-linecap="butt"/>
<circle cx="227.8" cy="259.7" r="2.05" fill="#000" stroke="#000" stroke-width="0.5"/>
<circle cx="215.9" cy="264.9" r="2.05" fill="#000" stroke="#000" stroke-width="0.5"/>
<circle cx="221.5" cy="265.2" r="2.05" fill="#000" stroke="#000" stroke-width="0.5"/>
<circle cx="218.7" cy="272.5" r="2.05" fill="#000" stroke="#000" stroke-width="0.5"/>
<circle cx="224.4" cy="271.2" r="2.05" fill="#000" stroke="#000" stroke-width="0.5"/>
<line x1="213.8" y1="266.8" x2="229.7" y2="266.8" stroke="#000" stroke-width="1.6" stroke-linecap="butt"/>
<text x="265.2" y="197" font-size="10.8" font-weight="bold" class="pl">D</text>
<line x1="310.1" y1="204.85" x2="310.1" y2="257.3" stroke="#000" stroke-width="1.9" stroke-linecap="butt"/>
<line x1="307.4" y1="257.3" x2="312.8" y2="257.3" stroke="#000" stroke-width="1.9" stroke-linecap="butt"/>
<line x1="310.1" y1="267.9" x2="310.1" y2="319.4" stroke="#000" stroke-width="1.9" stroke-linecap="butt"/>
<line x1="307.5" y1="267.9" x2="312.7" y2="267.9" stroke="#000" stroke-width="1.9" stroke-linecap="butt"/>
<line x1="305.5" y1="205.8" x2="311.05" y2="205.8" stroke="#000" stroke-width="1.9" stroke-linecap="butt"/>
<text x="305.4" y="209.37" font-size="8.8" text-anchor="end" textLength="18.8" lengthAdjust="spacingAndGlyphs" class="tk">5000</text>
<line x1="305.5" y1="216.52" x2="311.05" y2="216.52" stroke="#000" stroke-width="1.9" stroke-linecap="butt"/>
<text x="305.4" y="220.09" font-size="8.8" text-anchor="end" textLength="18.8" lengthAdjust="spacingAndGlyphs" class="tk">4000</text>
<line x1="305.5" y1="227.24" x2="311.05" y2="227.24" stroke="#000" stroke-width="1.9" stroke-linecap="butt"/>
<text x="305.4" y="230.81" font-size="8.8" text-anchor="end" textLength="18.8" lengthAdjust="spacingAndGlyphs" class="tk">3000</text>
<line x1="305.5" y1="237.96" x2="311.05" y2="237.96" stroke="#000" stroke-width="1.9" stroke-linecap="butt"/>
<text x="305.4" y="241.53" font-size="8.8" text-anchor="end" textLength="18.8" lengthAdjust="spacingAndGlyphs" class="tk">2000</text>
<line x1="305.5" y1="248.68" x2="311.05" y2="248.68" stroke="#000" stroke-width="1.9" stroke-linecap="butt"/>
<text x="305.4" y="252.25" font-size="8.8" text-anchor="end" textLength="18.8" lengthAdjust="spacingAndGlyphs" class="tk">1000</text>
<line x1="305.5" y1="267.9" x2="311.05" y2="267.9" stroke="#000" stroke-width="1.9" stroke-linecap="butt"/>
<text x="305.4" y="271.47" font-size="8.8" text-anchor="end" class="tk">100</text>
<line x1="305.5" y1="293.6" x2="311.05" y2="293.6" stroke="#000" stroke-width="1.9" stroke-linecap="butt"/>
<text x="305.4" y="297.17" font-size="8.8" text-anchor="end" class="tk">50</text>
<line x1="305.5" y1="319.4" x2="311.05" y2="319.4" stroke="#000" stroke-width="1.9" stroke-linecap="butt"/>
<text x="305.4" y="322.97" font-size="8.8" text-anchor="end" class="tk">0</text>
<line x1="479.9" y1="205.05" x2="479.9" y2="257.3" stroke="#000" stroke-width="1.9" stroke-linecap="butt"/>
<line x1="477.2" y1="257.3" x2="482.6" y2="257.3" stroke="#000" stroke-width="1.9" stroke-linecap="butt"/>
<line x1="479.9" y1="268.1" x2="479.9" y2="323.5" stroke="#000" stroke-width="1.9" stroke-linecap="butt"/>
<line x1="477.3" y1="268.1" x2="482.5" y2="268.1" stroke="#000" stroke-width="1.9" stroke-linecap="butt"/>
<line x1="478.95" y1="206" x2="484.5" y2="206" stroke="#000" stroke-width="1.9" stroke-linecap="butt"/>
<text x="484.9" y="209.6" font-size="8.9" class="tk">100</text>
<line x1="478.95" y1="219.2" x2="484.5" y2="219.2" stroke="#000" stroke-width="1.9" stroke-linecap="butt"/>
<text x="484.9" y="222.8" font-size="8.9" class="tk">75</text>
<line x1="478.95" y1="232.4" x2="484.5" y2="232.4" stroke="#000" stroke-width="1.9" stroke-linecap="butt"/>
<text x="484.9" y="236" font-size="8.9" class="tk">50</text>
<line x1="478.95" y1="245.6" x2="484.5" y2="245.6" stroke="#000" stroke-width="1.9" stroke-linecap="butt"/>
<text x="484.9" y="249.2" font-size="8.9" class="tk">25</text>
<line x1="478.95" y1="268.1" x2="484.5" y2="268.1" stroke="#000" stroke-width="1.9" stroke-linecap="butt"/>
<text x="484.9" y="271.7" font-size="8.9" class="tk">2</text>
<line x1="478.95" y1="293.7" x2="484.5" y2="293.7" stroke="#000" stroke-width="1.9" stroke-linecap="butt"/>
<text x="484.9" y="297.3" font-size="8.9" class="tk">1</text>
<line x1="478.95" y1="319.4" x2="484.5" y2="319.4" stroke="#000" stroke-width="1.9" stroke-linecap="butt"/>
<text x="484.9" y="323" font-size="8.9" class="tk">0</text>
<line x1="306" y1="319.4" x2="479.9" y2="319.4" stroke="#000" stroke-width="1.9" stroke-linecap="butt"/>
<line x1="310.1" y1="319.4" x2="310.1" y2="323.6" stroke="#000" stroke-width="1.9" stroke-linecap="butt"/>
<text x="310.1" y="331.75" font-size="9.2" text-anchor="middle" class="xt">0</text>
<line x1="366.22" y1="319.4" x2="366.22" y2="323.6" stroke="#000" stroke-width="1.9" stroke-linecap="butt"/>
<text x="366.22" y="331.75" font-size="9.2" text-anchor="middle" class="xt">4</text>
<line x1="422.34" y1="319.4" x2="422.34" y2="323.6" stroke="#000" stroke-width="1.9" stroke-linecap="butt"/>
<text x="422.34" y="331.75" font-size="9.2" text-anchor="middle" class="xt">8</text>
<line x1="478.46" y1="319.4" x2="478.46" y2="323.6" stroke="#000" stroke-width="1.9" stroke-linecap="butt"/>
<text x="478.46" y="331.75" font-size="9.2" text-anchor="middle" class="xt">12</text>
<text x="351.2" y="348.26" font-size="9.6" font-weight="bold" textLength="87.6" lengthAdjust="spacingAndGlyphs">Week Post-Injection</text>
<text x="275.3" y="261.35" font-size="10.2" font-weight="bold" text-anchor="middle" textLength="95.3" lengthAdjust="spacingAndGlyphs" transform="rotate(-90 275.3 261.35)">Plasma hF.IX (ng ml<tspan font-size="6.5" dy="-3.4">-1</tspan><tspan dy="3.4">)</tspan></text>
<text x="512.5" y="261.7" font-size="10.2" font-weight="bold" text-anchor="middle" textLength="76.8" lengthAdjust="spacingAndGlyphs" transform="rotate(90 512.5 261.7)">% of normal hF.IX</text>
<polyline points="338.16,252.2 366.22,252.4 422.34,250.2 450.4,249.6 478.46,246.4" fill="none" stroke="#000" stroke-width="1.5" stroke-linejoin="round"/>
<polyline points="311,311.5 331.4,267.9" fill="none" stroke="#000" stroke-width="1.5" stroke-linejoin="round"/>
<polyline points="335.6,257.6 338.16,252.2" fill="none" stroke="#000" stroke-width="1.5" stroke-linejoin="round"/>
<line x1="310.1" y1="311.5" x2="479.9" y2="311.5" stroke="#000" stroke-width="1.5" stroke-linecap="butt"/>
<polygon points="339.8,308.7 342.6,311.5 339.8,314.3 337,311.5" fill="#ad7464" stroke="#36140e" stroke-width="1.15"/>
<polygon points="368.82,309.2 371.12,311.5 368.82,313.8 366.52,311.5" fill="#000" stroke="#000" stroke-width="1.15"/>
<polygon points="453,309.2 455.3,311.5 453,313.8 450.7,311.5" fill="#000" stroke="#000" stroke-width="1.15"/>
<circle cx="365.42" cy="311.5" r="2.9" fill="#fff" stroke="#000" stroke-width="1"/>
<circle cx="449.6" cy="311.5" r="2.9" fill="#fff" stroke="#000" stroke-width="1"/>
<polygon points="481,309.5 482.9,311.4 481,313.3 479.1,311.4" fill="#ad7464" stroke="#36140e" stroke-width="0.8"/>
<line x1="479.9" y1="306" x2="479.9" y2="316" stroke="#000" stroke-width="1.9" stroke-linecap="butt"/>
<circle cx="476.5" cy="311.4" r="2.9" fill="#fff" stroke="#000" stroke-width="1"/>
<rect x="307.6" y="309" width="5" height="5" fill="#5a6aa6" stroke="#18204a" stroke-width="1"/>
<polygon points="311.5,308.7 314.3,311.5 311.5,314.3 308.7,311.5" fill="#ad7464" stroke="#36140e" stroke-width="1.15"/>
<rect x="335.51" y="249.55" width="5.3" height="5.3" fill="#5a6aa6" stroke="#18204a" stroke-width="1"/>
<rect x="363.87" y="250.05" width="4.7" height="4.7" fill="#5a6aa6" stroke="#18204a" stroke-width="1"/>
<rect x="419.99" y="247.85" width="4.7" height="4.7" fill="#5a6aa6" stroke="#18204a" stroke-width="1"/>
<rect x="448.05" y="247.25" width="4.7" height="4.7" fill="#5a6aa6" stroke="#18204a" stroke-width="1"/>
<rect x="475.81" y="243.75" width="5.3" height="5.3" fill="#5a6aa6" stroke="#18204a" stroke-width="1"/>
<text x="424.5" y="222.4" font-size="9.5" font-weight="bold" text-anchor="middle" textLength="17.8" lengthAdjust="spacingAndGlyphs">PHx</text>
<line x1="422.4" y1="225.3" x2="422.4" y2="234.5" stroke="#000" stroke-width="1.8" stroke-linecap="butt"/>
<polygon points="418.6,233.8 426.2,233.8 422.4,242.4" fill="#000"/>
<line x1="377.6" y1="265.6" x2="392" y2="265.6" stroke="#000" stroke-width="1.5" stroke-linecap="butt"/>
<rect x="382.2" y="263.05" width="5.6" height="5.1" fill="#5a6aa6" stroke="#18204a" stroke-width="1"/>
<text x="397.6" y="268.84" font-size="9" textLength="68.1" lengthAdjust="spacingAndGlyphs">ZFN + Donor (<tspan font-style="italic">n</tspan>=3)</text>
<line x1="377.6" y1="278.7" x2="392" y2="278.7" stroke="#000" stroke-width="1.5" stroke-linecap="butt"/>
<polygon points="384.7,275.6 387.8,278.7 384.7,281.8 381.6,278.7" fill="#b46a66" stroke="#3a0a08" stroke-width="1.2"/>
<text x="397.6" y="281.94" font-size="9" textLength="71" lengthAdjust="spacingAndGlyphs">Mock + Donor (<tspan font-style="italic">n</tspan>=3)</text>
<line x1="377.6" y1="292.2" x2="392" y2="292.2" stroke="#000" stroke-width="1.5" stroke-linecap="butt"/>
<circle cx="384.7" cy="292.2" r="2.7" fill="#fff" stroke="#000" stroke-width="1"/>
<text x="397.6" y="295.44" font-size="9" textLength="59.8" lengthAdjust="spacingAndGlyphs">ZFN Alone (<tspan font-style="italic">n</tspan>=3)</text>
<text x="2.3" y="376.5" font-size="10.8" font-weight="bold" class="pl">E</text>
<line x1="43" y1="377.55" x2="43" y2="432" stroke="#000" stroke-width="1.9" stroke-linecap="butt"/>
<line x1="40.3" y1="432" x2="45.7" y2="432" stroke="#000" stroke-width="1.9" stroke-linecap="butt"/>
<line x1="43" y1="442.1" x2="43" y2="495" stroke="#000" stroke-width="1.9" stroke-linecap="butt"/>
<line x1="40.4" y1="442.1" x2="45.6" y2="442.1" stroke="#000" stroke-width="1.9" stroke-linecap="butt"/>
<line x1="38.4" y1="378.5" x2="43.95" y2="378.5" stroke="#000" stroke-width="1.9" stroke-linecap="butt"/>
<text x="38.3" y="382.1" font-size="8.9" text-anchor="end" textLength="19.6" lengthAdjust="spacingAndGlyphs" class="tk">5000</text>
<line x1="38.4" y1="389.28" x2="43.95" y2="389.28" stroke="#000" stroke-width="1.9" stroke-linecap="butt"/>
<text x="38.3" y="392.88" font-size="8.9" text-anchor="end" textLength="19.6" lengthAdjust="spacingAndGlyphs" class="tk">4000</text>
<line x1="38.4" y1="400.06" x2="43.95" y2="400.06" stroke="#000" stroke-width="1.9" stroke-linecap="butt"/>
<text x="38.3" y="403.66" font-size="8.9" text-anchor="end" textLength="19.6" lengthAdjust="spacingAndGlyphs" class="tk">3000</text>
<line x1="38.4" y1="410.84" x2="43.95" y2="410.84" stroke="#000" stroke-width="1.9" stroke-linecap="butt"/>
<text x="38.3" y="414.44" font-size="8.9" text-anchor="end" textLength="19.6" lengthAdjust="spacingAndGlyphs" class="tk">2000</text>
<line x1="38.4" y1="421.62" x2="43.95" y2="421.62" stroke="#000" stroke-width="1.9" stroke-linecap="butt"/>
<text x="38.3" y="425.22" font-size="8.9" text-anchor="end" textLength="19.6" lengthAdjust="spacingAndGlyphs" class="tk">1000</text>
<line x1="38.4" y1="442.1" x2="43.95" y2="442.1" stroke="#000" stroke-width="1.9" stroke-linecap="butt"/>
<text x="38.3" y="445.7" font-size="8.9" text-anchor="end" class="tk">100</text>
<line x1="38.4" y1="468.6" x2="43.95" y2="468.6" stroke="#000" stroke-width="1.9" stroke-linecap="butt"/>
<text x="38.3" y="472.2" font-size="8.9" text-anchor="end" class="tk">50</text>
<line x1="38.4" y1="495" x2="43.95" y2="495" stroke="#000" stroke-width="1.9" stroke-linecap="butt"/>
<text x="38.3" y="498.6" font-size="8.9" text-anchor="end" class="tk">0</text>
<line x1="216.9" y1="377.85" x2="216.9" y2="431.7" stroke="#000" stroke-width="1.9" stroke-linecap="butt"/>
<line x1="214.2" y1="431.7" x2="219.6" y2="431.7" stroke="#000" stroke-width="1.9" stroke-linecap="butt"/>
<line x1="216.9" y1="442.5" x2="216.9" y2="498.6" stroke="#000" stroke-width="1.9" stroke-linecap="butt"/>
<line x1="214.3" y1="442.5" x2="219.5" y2="442.5" stroke="#000" stroke-width="1.9" stroke-linecap="butt"/>
<line x1="215.95" y1="378.8" x2="221.5" y2="378.8" stroke="#000" stroke-width="1.9" stroke-linecap="butt"/>
<text x="221.9" y="382.4" font-size="8.9" class="tk">100</text>
<line x1="215.95" y1="392.2" x2="221.5" y2="392.2" stroke="#000" stroke-width="1.9" stroke-linecap="butt"/>
<text x="221.9" y="395.8" font-size="8.9" class="tk">75</text>
<line x1="215.95" y1="405.6" x2="221.5" y2="405.6" stroke="#000" stroke-width="1.9" stroke-linecap="butt"/>
<text x="221.9" y="409.2" font-size="8.9" class="tk">50</text>
<line x1="215.95" y1="419.1" x2="221.5" y2="419.1" stroke="#000" stroke-width="1.9" stroke-linecap="butt"/>
<text x="221.9" y="422.7" font-size="8.9" class="tk">25</text>
<line x1="215.95" y1="442.5" x2="221.5" y2="442.5" stroke="#000" stroke-width="1.9" stroke-linecap="butt"/>
<text x="221.9" y="446.1" font-size="8.9" class="tk">2</text>
<line x1="215.95" y1="468.4" x2="221.5" y2="468.4" stroke="#000" stroke-width="1.9" stroke-linecap="butt"/>
<text x="221.9" y="472" font-size="8.9" class="tk">1</text>
<line x1="215.95" y1="495" x2="221.5" y2="495" stroke="#000" stroke-width="1.9" stroke-linecap="butt"/>
<text x="221.9" y="498.6" font-size="8.9" class="tk">0</text>
<line x1="38.6" y1="495" x2="216.9" y2="495" stroke="#000" stroke-width="1.9" stroke-linecap="butt"/>
<line x1="43" y1="495" x2="43" y2="498.6" stroke="#000" stroke-width="1.9" stroke-linecap="butt"/>
<text x="43" y="507.95" font-size="9.2" text-anchor="middle" class="xt">0</text>
<line x1="100.36" y1="495" x2="100.36" y2="498.6" stroke="#000" stroke-width="1.9" stroke-linecap="butt"/>
<text x="100.36" y="507.95" font-size="9.2" text-anchor="middle" class="xt">4</text>
<line x1="157.72" y1="495" x2="157.72" y2="498.6" stroke="#000" stroke-width="1.9" stroke-linecap="butt"/>
<text x="157.72" y="507.95" font-size="9.2" text-anchor="middle" class="xt">8</text>
<line x1="215.08" y1="495" x2="215.08" y2="498.6" stroke="#000" stroke-width="1.9" stroke-linecap="butt"/>
<text x="215.08" y="507.95" font-size="9.2" text-anchor="middle" class="xt">12</text>
<text x="84.8" y="527.21" font-size="9.6" font-weight="bold" textLength="90" lengthAdjust="spacingAndGlyphs">Week Post-Injection</text>
<text x="10.3" y="435.75" font-size="10.2" font-weight="bold" text-anchor="middle" textLength="97.7" lengthAdjust="spacingAndGlyphs" transform="rotate(-90 10.3 435.75)">Plasma hF.IX (ng ml<tspan font-size="6.5" dy="-3.4">-1</tspan><tspan dy="3.4">)</tspan></text>
<text x="248" y="435.85" font-size="10.2" font-weight="bold" text-anchor="middle" textLength="78.5" lengthAdjust="spacingAndGlyphs" transform="rotate(90 248 435.85)">% of normal hF.IX</text>
<polyline points="57.34,430.6 71.68,424.2 100.36,424 157.72,422.5 215.08,424" fill="none" stroke="#000" stroke-width="1.5" stroke-linejoin="round"/>
<polyline points="43.5,486.9 54.8,442.1" fill="none" stroke="#000" stroke-width="1.5" stroke-linejoin="round"/>
<polyline points="43,486.9 57.34,486.9 71.68,475.2 100.36,472.3 157.72,470.4 215.08,464.2" fill="none" stroke="#000" stroke-width="1.5" stroke-linejoin="round"/>
<line x1="71.68" y1="420.3" x2="71.68" y2="427.7" stroke="#000" stroke-width="1.1" stroke-linecap="butt"/>
<line x1="69.08" y1="420.3" x2="74.28" y2="420.3" stroke="#000" stroke-width="1.1" stroke-linecap="butt"/>
<line x1="69.08" y1="427.7" x2="74.28" y2="427.7" stroke="#000" stroke-width="1.1" stroke-linecap="butt"/>
<line x1="100.36" y1="469" x2="100.36" y2="475.6" stroke="#000" stroke-width="1.1" stroke-linecap="butt"/>
<line x1="97.76" y1="469" x2="102.96" y2="469" stroke="#000" stroke-width="1.1" stroke-linecap="butt"/>
<line x1="97.76" y1="475.6" x2="102.96" y2="475.6" stroke="#000" stroke-width="1.1" stroke-linecap="butt"/>
<rect x="55.09" y="484.65" width="4.5" height="4.5" fill="#fff" stroke="#000" stroke-width="1"/>
<rect x="69.43" y="472.95" width="4.5" height="4.5" fill="#fff" stroke="#000" stroke-width="1"/>
<rect x="98.11" y="470.05" width="4.5" height="4.5" fill="#fff" stroke="#000" stroke-width="1"/>
<rect x="155.47" y="468.15" width="4.5" height="4.5" fill="#fff" stroke="#000" stroke-width="1"/>
<rect x="212.83" y="461.95" width="4.5" height="4.5" fill="#fff" stroke="#000" stroke-width="1"/>
<rect x="40.7" y="484.7" width="4.6" height="4.6" fill="#5a6aa6" stroke="#18204a" stroke-width="1"/>
<rect x="55.19" y="428.45" width="4.3" height="4.3" fill="#5a6aa6" stroke="#18204a" stroke-width="1"/>
<rect x="69.53" y="422.05" width="4.3" height="4.3" fill="#5a6aa6" stroke="#18204a" stroke-width="1"/>
<rect x="98.21" y="421.85" width="4.3" height="4.3" fill="#5a6aa6" stroke="#18204a" stroke-width="1"/>
<rect x="155.57" y="420.35" width="4.3" height="4.3" fill="#5a6aa6" stroke="#18204a" stroke-width="1"/>
<rect x="212.93" y="421.85" width="4.3" height="4.3" fill="#5a6aa6" stroke="#18204a" stroke-width="1"/>
<line x1="73.8" y1="439.5" x2="88.7" y2="439.5" stroke="#000" stroke-width="1.5" stroke-linecap="butt"/>
<rect x="78.95" y="437.25" width="4.5" height="4.5" fill="#5a6aa6" stroke="#18204a" stroke-width="1"/>
<text x="94.6" y="442.44" font-size="9" textLength="49.8" lengthAdjust="spacingAndGlyphs">h<tspan font-style="italic">F9</tspan>mut (<tspan font-style="italic">n</tspan>=4)</text>
<line x1="73.8" y1="455.1" x2="88.7" y2="455.1" stroke="#000" stroke-width="1.5" stroke-linecap="butt"/>
<rect x="78.95" y="452.85" width="4.5" height="4.5" fill="#fff" stroke="#000" stroke-width="1"/>
<text x="94.6" y="458.04" font-size="9" textLength="57.1" lengthAdjust="spacingAndGlyphs">Wild Type (<tspan font-style="italic">n</tspan>=4)</text>
<text x="264.8" y="376.1" font-size="10.8" font-weight="bold" class="pl">F</text>
<text x="300.4" y="397.69" font-size="9.7" textLength="46.5" lengthAdjust="spacingAndGlyphs">ZFN Alone</text>
<text x="361.3" y="397.29" font-size="9.7" textLength="60.9" lengthAdjust="spacingAndGlyphs">Mock + Donor</text>
<text x="428.6" y="397.29" font-size="9.7" textLength="55.5" lengthAdjust="spacingAndGlyphs">ZFN+ Donor</text>
<line x1="292.7" y1="401.2" x2="353.8" y2="401.2" stroke="#000" stroke-width="1.5" stroke-linecap="butt"/>
<line x1="360.4" y1="401.2" x2="421.8" y2="401.2" stroke="#000" stroke-width="1.5" stroke-linecap="butt"/>
<line x1="425.5" y1="401.2" x2="487.5" y2="401.2" stroke="#000" stroke-width="1.5" stroke-linecap="butt"/>
<text x="273.2" y="424" font-size="6.6" textLength="6.6" lengthAdjust="spacingAndGlyphs" class="xt">kb</text>
<text x="273" y="436.2" font-size="6.3" textLength="9.3" lengthAdjust="spacingAndGlyphs" class="xt">3.0</text>
<line x1="285" y1="434" x2="291.2" y2="434" stroke="#000" stroke-width="1.3" stroke-linecap="butt"/>
<text x="273" y="448.9" font-size="6.3" textLength="9.3" lengthAdjust="spacingAndGlyphs" class="xt">2.0</text>
<line x1="285" y1="446.7" x2="291.2" y2="446.7" stroke="#000" stroke-width="1.3" stroke-linecap="butt"/>
<text x="273" y="471.3" font-size="6.3" textLength="9.3" lengthAdjust="spacingAndGlyphs" class="xt">1.5</text>
<line x1="285" y1="469.1" x2="291.2" y2="469.1" stroke="#000" stroke-width="1.3" stroke-linecap="butt"/>
<line x1="491.3" y1="435.7" x2="497.3" y2="435.7" stroke="#000" stroke-width="1.3" stroke-linecap="butt"/>
<text x="498.2" y="438.3" font-size="8.2" font-weight="bold" textLength="22.2" lengthAdjust="spacingAndGlyphs">NHEJ</text>
<line x1="491.3" y1="447.3" x2="497.7" y2="447.3" stroke="#000" stroke-width="1.3" stroke-linecap="butt"/>
<text x="502.3" y="450.3" font-size="8.2" font-weight="bold" textLength="18" lengthAdjust="spacingAndGlyphs">HDR</text>
<circle cx="487.9" cy="459.3" r="1.4" fill="#000"/>
</svg></body></html>
